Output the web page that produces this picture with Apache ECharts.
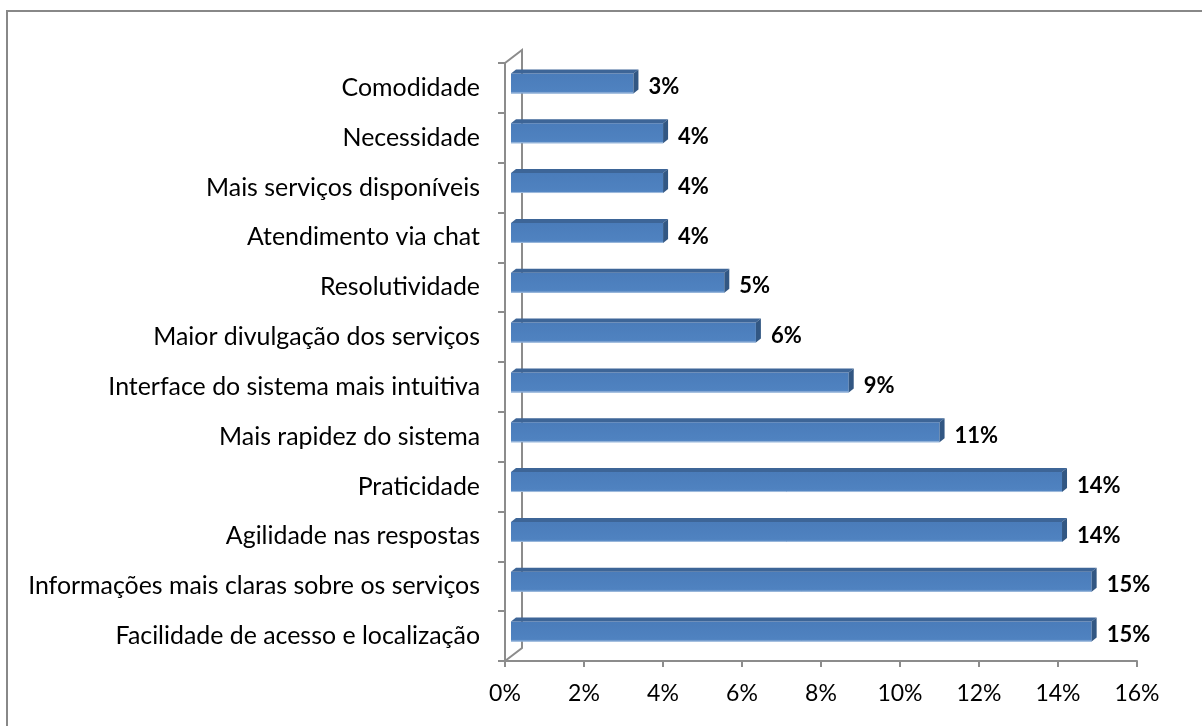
<!DOCTYPE html>
<html>
<head>
<meta charset="utf-8">
<script src="https://cdn.jsdelivr.net/npm/echarts@6/dist/echarts.min.js"></script>
<style>
  html, body { margin: 0; padding: 0; background: #ffffff; }
  #chart { width: 1202px; height: 726px; }
</style>
</head>
<body>
<div id="chart"></div>
<script>
// Reasons given, top to bottom
const categories = [
  'Comodidade',
  'Necessidade',
  'Mais serviços disponíveis',
  'Atendimento via chat',
  'Resolutividade',
  'Maior divulgação dos serviços',
  'Interface do sistema mais intuitiva',
  'Mais rapidez do sistema',
  'Praticidade',
  'Agilidade nas respostas',
  'Informações mais claras sobre os serviços',
  'Facilidade de acesso e localização'
];
// Share of answers, in percent
const shares = [3.1, 3.85, 3.85, 3.85, 5.4, 6.2, 8.55, 10.85, 13.95, 13.95, 14.7, 14.7];
// Value axis range and step, in percent
const axisMin = 0;
const axisMax = 16;
const axisStep = 2;

const FONT = 'Lato';
const gridLeft = 505, gridTop = 63, gridRight = 65, gridBottom = 65;
const W = 1202, H = 726;
// depth of the 3D walls
const wallDx = 17, wallDy = -13;
const axisGray = '#8c8c8c';

const chart = echarts.init(document.getElementById('chart'), null, { renderer: 'canvas' });

function renderBar(params, api) {
  const v = api.value(0);
  const c = api.value(1);
  const p0 = api.coord([0, c]);
  const p1 = api.coord([v, c]);
  const band = api.size([0, 1])[1];
  const h = band * 0.4;
  // front plane of the bar sits part-way into the wall depth
  const dx = 6, dy = -4.5;
  // thickness of the bar itself
  const tx = 5, ty = -4;
  const x0 = p0[0] + dx, x1 = p1[0] + dx;
  const yc = p0[1] + dy;
  const yt = yc - h / 2, yb = yc + h / 2;
  return {
    type: 'group',
    children: [
      {
        type: 'rect',
        shape: { x: x0, y: yt, width: x1 - x0, height: h },
        style: {
          fill: new echarts.graphic.LinearGradient(0, 0, 0, 1, [
            { offset: 0, color: '#4a7cba' },
            { offset: 0.85, color: '#4f82c0' },
            { offset: 1, color: '#5a8bc6' }
          ])
        }
      },
      {
        type: 'line',
        shape: { x1: x0, y1: yb - 0.5, x2: x1, y2: yb - 0.5 },
        style: { stroke: '#9fbbdd', lineWidth: 1 }
      },
      {
        type: 'polygon',
        shape: { points: [[x0, yt], [x1, yt], [x1 + tx, yt + ty], [x0 + tx, yt + ty]] },
        style: { fill: '#3d6597' }
      },
      {
        type: 'polygon',
        shape: { points: [[x1, yt], [x1 + tx, yt + ty], [x1 + tx, yb + ty], [x1, yb]] },
        style: { fill: '#325783' }
      },
      {
        type: 'text',
        style: {
          text: Math.round(v) + '%',
          x: x1 + tx + 10,
          y: p0[1] - 1,
          verticalAlign: 'middle',
          align: 'left',
          fill: '#000000',
          font: 'bold 22px "' + FONT + '"'
        }
      }
    ]
  };
}

const L = gridLeft, T = gridTop, B = H - gridBottom;

chart.setOption({
  animation: false,
  backgroundColor: '#ffffff',
  grid: { left: gridLeft, top: gridTop, right: gridRight, bottom: gridBottom, containLabel: false },
  xAxis: {
    type: 'value',
    min: axisMin,
    max: axisMax,
    interval: axisStep,
    axisLine: { show: true, lineStyle: { color: axisGray, width: 2 } },
    axisTick: { show: true, length: 6, lineStyle: { color: axisGray, width: 2 } },
    axisLabel: {
      formatter: '{value}%',
      margin: 21,
      color: '#000000',
      fontFamily: FONT,
      fontSize: 23
    },
    splitLine: { show: false }
  },
  yAxis: {
    type: 'category',
    data: categories,
    inverse: true,
    axisLine: { show: true, lineStyle: { color: axisGray, width: 2 } },
    axisTick: { show: true, length: 7, lineStyle: { color: axisGray, width: 2 } },
    axisLabel: {
      margin: 25,
      color: '#000000',
      fontFamily: FONT,
      fontSize: 24.9
    }
  },
  graphic: [
    {
      type: 'rect',
      shape: { x: 7, y: 11, width: W + 50, height: H + 50 },
      style: { fill: 'none', stroke: '#888888', lineWidth: 2 },
      silent: true
    },
    {
      type: 'polyline',
      shape: { points: [[L, T], [L + wallDx, T + wallDy], [L + wallDx, B + wallDy], [L, B]] },
      style: { fill: 'none', stroke: axisGray, lineWidth: 2 },
      silent: true
    }
  ],
  series: [
    {
      type: 'custom',
      renderItem: renderBar,
      encode: { x: 0, y: 1 },
      data: shares.map((v, i) => [v, i]),
      z: 3
    }
  ]
});
</script>
</body>
</html>
